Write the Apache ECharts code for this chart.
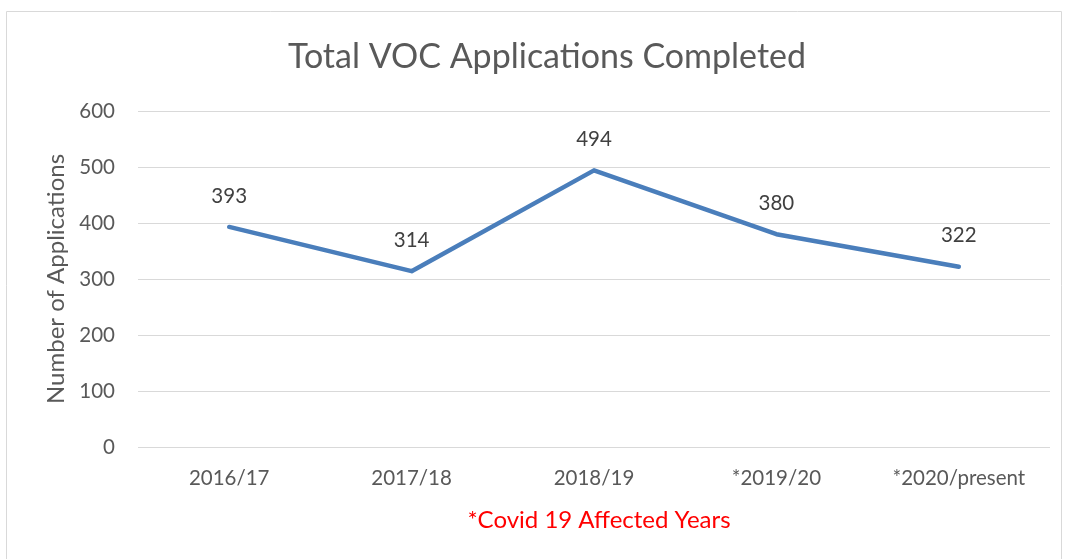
<!DOCTYPE html>
<html>
<head>
<meta charset="utf-8">
<script src="https://cdn.jsdelivr.net/npm/echarts@6/dist/echarts.min.js"></script>
<style>
  html, body { margin: 0; padding: 0; background: #fff; }
  #chart { width: 1066px; height: 559px; }
</style>
</head>
<body>
<div id="chart"></div>
<script>
// chart data
const years = ['2016/17', '2017/18', '2018/19', '*2019/20', '*2020/present']
const applications = [393, 314, 494, 380, 322]
const yTicks = [0, 100, 200, 300, 400, 500, 600]

const font = 'Lato, "Open Sans", sans-serif'
const grey = '#595959'

const myChart = echarts.init(document.getElementById('chart'))
myChart.setOption({
  animation: false,
  title: [
    {
      text: 'Total VOC Applications Completed',
      left: 542,
      top: 35,
      textAlign: 'center',
      textStyle: { fontFamily: font, fontSize: 34, fontWeight: 'normal', color: grey },
    },
    {
      text: '*Covid 19 Affected Years',
      left: 594,
      top: 503,
      textAlign: 'center',
      textStyle: { fontFamily: font, fontSize: 24, fontWeight: 'normal', color: '#ff0000' },
    },
  ],
  graphic: [
    {
      type: 'rect',
      shape: { x: 6.5, y: 11.5, width: 1055, height: 560 },
      style: { fill: 'none', stroke: '#d9d9d9', lineWidth: 1 },
      silent: true,
    },
  ],
  grid: { left: 138, right: 16, top: 111, bottom: 112, containLabel: false },
  xAxis: {
    type: 'category',
    data: years,
    boundaryGap: true,
    axisLine: { show: false },
    axisTick: { show: false },
    axisLabel: { margin: 21, fontFamily: font, fontSize: 20.5, color: grey },
  },
  yAxis: {
    type: 'value',
    min: yTicks[0],
    max: yTicks[yTicks.length - 1],
    interval: 100,
    name: 'Number of Applications',
    nameLocation: 'middle',
    nameGap: 66,
    nameRotate: 90,
    nameTextStyle: { fontFamily: font, fontSize: 24, color: grey },
    axisLine: { show: false },
    axisTick: { show: false },
    axisLabel: { margin: 23, fontFamily: font, fontSize: 20.5, color: grey },
    splitLine: { lineStyle: { color: '#d9d9d9', width: 1 } },
  },
  series: [
    {
      type: 'line',
      data: applications,
      symbol: 'circle',
      symbolSize: 1,
      showSymbol: true,
      itemStyle: { color: 'rgba(0,0,0,0)' },
      lineStyle: { color: '#4a7ebb', width: 4.5, cap: 'round', join: 'round' },
      label: {
        show: true,
        position: 'top',
        distance: 20,
        fontFamily: font,
        fontSize: 20.5,
        color: '#404040',
      },
    },
  ],
})
</script>
</body>
</html>
